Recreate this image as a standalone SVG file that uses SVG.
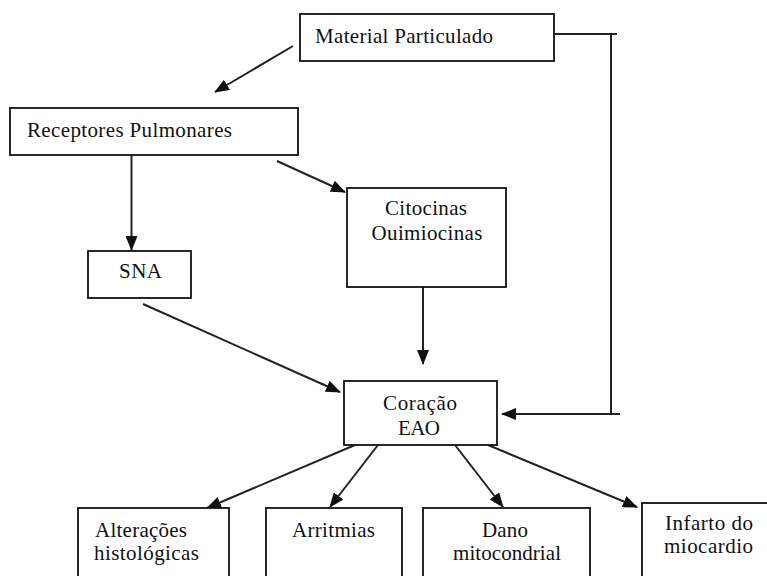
<svg xmlns="http://www.w3.org/2000/svg" width="767" height="576" viewBox="0 0 767 576">
<style>
.box{fill:#fff;stroke:#111;stroke-width:1.8}
.t{font-family:"Liberation Serif","Times New Roman",serif;font-size:21px;fill:#111}
.c{text-anchor:middle}
.ln{fill:none;stroke:#222;stroke-width:2}
.ar{fill:none;stroke:#222;stroke-width:2;marker-end:url(#ah)}
</style>
<defs>
<marker id="ah" markerUnits="userSpaceOnUse" markerWidth="16" markerHeight="12" refX="14" refY="6" orient="auto" viewBox="0 0 16 12">
<path d="M0,0 L15,6 L0,12 Z" fill="#111"/>
</marker>
</defs>
<rect width="767" height="576" fill="#fff"/>
<g id="connectors">
<line class="ar" x1="293" y1="46" x2="215" y2="92"/>
<line class="ar" x1="131.5" y1="155" x2="131.5" y2="250"/>
<line class="ar" x1="277" y1="161" x2="345" y2="192"/>
<line class="ar" x1="423" y1="287" x2="423" y2="364"/>
<line class="ar" x1="143" y1="304" x2="340" y2="392"/>
<polyline class="ln" points="554,34 617,34"/>
<line class="ln" x1="611" y1="34" x2="611" y2="414"/>
<line class="ar" x1="620" y1="414" x2="502" y2="414"/>
<line class="ar" x1="355" y1="445" x2="207" y2="508"/>
<line class="ar" x1="378" y1="445" x2="330" y2="507"/>
<line class="ar" x1="455" y1="445" x2="503" y2="507"/>
<line class="ar" x1="488" y1="445" x2="637" y2="507"/>
</g>
<g id="material">
<rect class="box" x="300" y="14" width="254" height="47"/>
<text class="t" x="315" y="43" textLength="178">Material Particulado</text>
</g>
<g id="receptores">
<rect class="box" x="10" y="108" width="288" height="47"/>
<text class="t" x="27" y="137" textLength="205">Receptores Pulmonares</text>
</g>
<g id="sna">
<rect class="box" x="88" y="251" width="103" height="47"/>
<text class="t c" x="140.5" y="278" textLength="43">SNA</text>
</g>
<g id="citocinas">
<rect class="box" x="347" y="188" width="159" height="99"/>
<text class="t c" x="426" y="215" textLength="82">Citocinas</text>
<text class="t c" x="427" y="240" textLength="111">Ouimiocinas</text>
</g>
<g id="coracao">
<rect class="box" x="344" y="381" width="153" height="64"/>
<text class="t c" x="420" y="410" textLength="74">Coração</text>
<text class="t c" x="419" y="435" textLength="42">EAO</text>
</g>
<g id="alteracoes">
<rect class="box" x="78" y="508" width="151" height="80"/>
<text class="t" x="95" y="537" textLength="92">Alterações</text>
<text class="t" x="94" y="560" textLength="105">histológicas</text>
</g>
<g id="arritmias">
<rect class="box" x="266" y="508" width="136" height="80"/>
<text class="t c" x="333.5" y="537" textLength="83">Arritmias</text>
</g>
<g id="dano">
<rect class="box" x="423" y="508" width="167" height="80"/>
<text class="t c" x="505" y="537" textLength="46">Dano</text>
<text class="t c" x="507" y="560" textLength="108">mitocondrial</text>
</g>
<g id="infarto">
<rect class="box" x="642" y="503" width="140" height="85"/>
<text class="t c" x="709" y="530" textLength="88">Infarto do</text>
<text class="t c" x="708.5" y="553" textLength="89">miocardio</text>
</g>
</svg>
